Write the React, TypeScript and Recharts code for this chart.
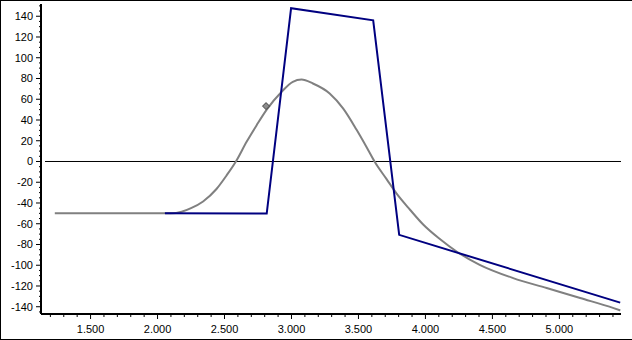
import { ComposedChart, Line, Scatter, XAxis, YAxis, ReferenceLine } from 'recharts'

// blue (navy) polyline
const blueX = [2.055, 2.815, 2.997, 3.61, 3.804, 5.454]
const blueY = [-50, -50.2, 147.7, 136.1, -70.7, -136]

// gray smooth curve
const grayX = [
  1.233, 2.1, 2.18, 2.25, 2.34, 2.44, 2.515, 2.585, 2.665, 2.74, 2.815, 2.925, 3.01, 3.075, 3.16, 3.285,
  3.385, 3.485, 3.56, 3.62, 3.71, 3.785, 3.885, 3.985, 4.11, 4.235, 4.405, 4.655, 4.905, 5.155, 5.405,
  5.455,
]
const grayY = [
  -50, -50, -48.5, -45, -38.5, -26.5, -13.5, 0, 19, 35, 50, 67, 76.8, 79, 75.2, 65.6,
  51.2, 30.8, 14, 0, -17, -31, -46.5, -61, -75, -87, -99.6, -112.4, -122, -131.6, -141.3,
  -143.5,
]

// single diamond marker
const markerX = [2.81]
const markerY = [53.4]

const xDomain = [1.13, 5.46]
const yDomain = [-147, 151.8]

const xTicks: number[] = []
for (let i = 12; i <= 54; i++) xTicks.push(i / 10)
const yTicks: number[] = []
for (let v = -145; v <= 150; v += 5) yTicks.push(v)

const blueData = blueX.map((x, i) => ({ x, y: blueY[i] }))
const grayData = grayX.map((x, i) => ({ x, y: grayY[i] }))
const markerData = markerX.map((x, i) => ({ x, y: markerY[i] }))

const font = { fontFamily: '"Liberation Sans", Arial, sans-serif', fontSize: 11, fill: '#000' }

const YTick = (props: any) => {
  const { x, y, payload } = props
  const v = payload.value as number
  const major = v % 20 === 0
  return (
    <g>
      <line x1={x - (major ? 5 : 2)} x2={x} y1={y} y2={y} stroke="#000" />
      {major && (
        <text x={x - 8} y={y} dy={4} textAnchor="end" {...font}>
          {v}
        </text>
      )}
    </g>
  )
}

const XTick = (props: any) => {
  const { x, y, payload } = props
  const v = payload.value as number
  const major = Math.abs(v * 2 - Math.round(v * 2)) < 1e-6
  return (
    <g>
      <line x1={x} x2={x} y1={y} y2={y + (major ? 5 : 3)} stroke="#000" />
      {major && (
        <text x={x} y={y + 19} textAnchor="middle" {...font}>
          {v.toFixed(3)}
        </text>
      )}
    </g>
  )
}

const Diamond = (props: any) => {
  const { cx, cy } = props
  const r = 3.5
  return (
    <polygon
      points={`${cx},${cy - r} ${cx + r},${cy} ${cx},${cy + r} ${cx - r},${cy}`}
      fill="#8c8c8c"
      stroke="#404040"
      strokeWidth={1}
    />
  )
}

export default function App() {
  return (
    <div style={{ position: 'relative', width: 632, height: 340, background: '#fff' }}>
      <style>{'body{margin:0}'}</style>
      <ComposedChart width={632} height={340} margin={{ top: 4, right: 11, bottom: 0, left: 0 }}>
        <XAxis
          type="number"
          dataKey="x"
          domain={xDomain}
          allowDataOverflow
          ticks={xTicks}
          interval={0}
          tickSize={0}
          tickMargin={0}
          tickLine={false}
          tick={<XTick />}
          height={26}
          axisLine={{ stroke: '#000', strokeWidth: 2 }}
        />
        <YAxis
          type="number"
          dataKey="y"
          domain={yDomain}
          allowDataOverflow
          ticks={yTicks}
          interval={0}
          tickSize={0}
          tickMargin={0}
          tickLine={false}
          tick={<YTick />}
          width={41}
          axisLine={{ stroke: '#000', strokeWidth: 2 }}
        />
        <ReferenceLine
          segment={[
            { x: 1.16, y: 0 },
            { x: 5.46, y: 0 },
          ]}
          stroke="#000"
          strokeWidth={1}
        />
        <Line
          data={grayData}
          dataKey="y"
          type="monotone"
          stroke="#808080"
          strokeWidth={2}
          dot={false}
          isAnimationActive={false}
        />
        <Line
          data={blueData}
          dataKey="y"
          type="linear"
          stroke="#000080"
          strokeWidth={2}
          dot={false}
          isAnimationActive={false}
        />
        <Scatter data={markerData} dataKey="y" shape={<Diamond />} isAnimationActive={false} />
      </ComposedChart>
      <div
        style={{
          position: 'absolute',
          left: 0,
          top: 0,
          width: 632,
          height: 340,
          boxSizing: 'border-box',
          borderTop: '1px solid #000',
          borderLeft: '1px solid #000',
          borderBottom: '1px solid #000',
          pointerEvents: 'none',
        }}
      />
    </div>
  )
}
